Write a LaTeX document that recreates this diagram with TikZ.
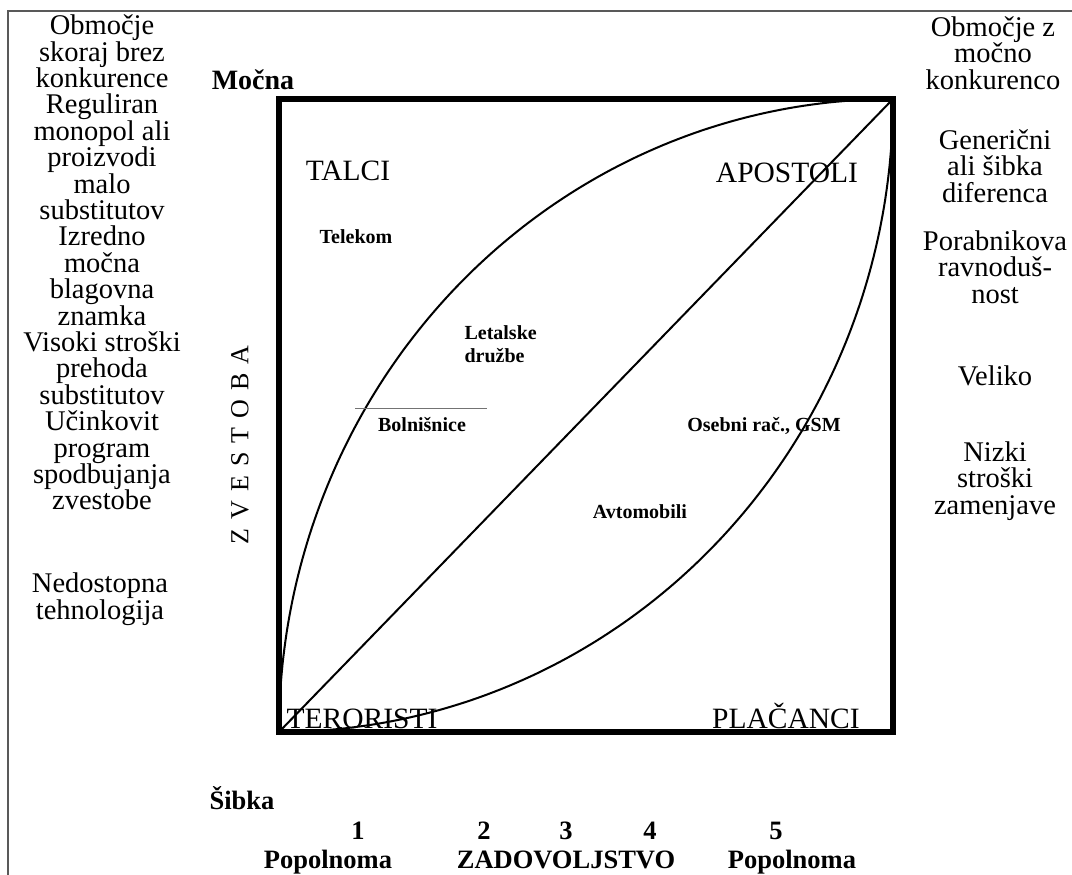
\documentclass[tikz,border=0pt]{standalone}
\usepackage{fontspec}
\setmainfont{Liberation Serif}

\begin{document}
\begin{tikzpicture}[x=1pt,y=-1pt,
    coltext/.style={align=center,font=\fontsize{28.5}{26.4}\selectfont},
    quadlbl/.style={anchor=base,font=\fontsize{29.5}{30}\selectfont},
    firmlbl/.style={anchor=base,font=\fontsize{20}{23}\selectfont\bfseries},
    axlbl/.style={anchor=base,font=\fontsize{26.5}{26}\selectfont\bfseries}]
    \useasboundingbox (0,0) rectangle (1072,875);

    % outer frame (only left and top)
    \draw[black!65,line width=1.2pt] (8,875) -- (8,11) -- (1072,11);

    % square and curves
    \draw[line width=5.5pt] (279,99) rectangle (893,732);
    \draw[line width=2pt,samples=120,domain=0:90,variable=\t]
        plot ({893-614*cos(\t)},{732-633*sin(\t)});
    \draw[line width=2pt,samples=120,domain=0:90,variable=\t]
        plot ({279+614*cos(\t)},{99+633*sin(\t)});
    \draw[line width=2pt] (279,732) -- (893,99);
    \draw[black!55,line width=0.8pt] (355,408) -- (487,408);

    % left column
    \node[coltext] (left) at (102,262.5) {Območje\\skoraj brez\\konkurence\\Reguliran\\
        monopol ali\\proizvodi\\malo\\substitutov\\Izredno\\močna\\blagovna\\znamka\\
        Visoki stroški\\prehoda\\substitutov\\Učinkovit\\program\\spodbujanja\\zvestobe};
    \node[coltext] (tech) at (100,599) {Nedostopna\\tehnologija};

    % right column
    \node[coltext] (strong) at (993,53) {Območje z\\močno\\konkurenco};
    \node[coltext] (gener) at (995,166) {Generični\\ali šibka\\diferenca};
    \node[coltext] (indiff) at (995,267) {Porabnikova\\ravnoduš-\\nost};
    \node[coltext] (big) at (995,376) {Veliko};
    \node[coltext] (cost) at (995,481) {Nizki\\stroški\\zamenjave};

    % axis labels
    \node[axlbl,font=\fontsize{28}{28}\selectfont\bfseries] (hi) at (253,89.5) {Močna};
    \node[axlbl] (lo) at (242,809) {Šibka};
    \node[rotate=90,font=\fontsize{26}{26}\selectfont] (loyal) at (240,445)
        {Z\hspace{9pt}V\hspace{9pt}E\hspace{9pt}S\hspace{9pt}T\hspace{9pt}O\hspace{9pt}B\hspace{9pt}A};

    % satisfaction scale
    \node[axlbl] (n1) at (358,839) {1};
    \node[axlbl] (n2) at (484,839) {2};
    \node[axlbl] (n3) at (566,839) {3};
    \node[axlbl] (n4) at (650,839) {4};
    \node[axlbl] (n5) at (776,839) {5};
    \node[axlbl] (full1) at (328,868) {Popolnoma};
    \node[axlbl] (sat) at (566,868) {ZADOVOLJSTVO};
    \node[axlbl] (full2) at (792,868) {Popolnoma};

    % quadrants
    \node[quadlbl] (talci) at (348,180) {TALCI};
    \node[quadlbl] (apost) at (787,182) {APOSTOLI};
    \node[quadlbl] (teror) at (362,728) {TERORISTI};
    \node[quadlbl] (plac) at (786,728) {PLAČANCI};

    % firms
    \node[firmlbl] (telekom) at (356,243) {Telekom};
    \node[firmlbl,align=left,anchor=base west] (air) at (461,362) {Letalske\\družbe};
    \node[firmlbl] (hosp) at (422,431) {Bolnišnice};
    \node[firmlbl] (pc) at (764,431) {Osebni rač., GSM};
    \node[firmlbl] (cars) at (640,518) {Avtomobili};
\end{tikzpicture}
\end{document}
